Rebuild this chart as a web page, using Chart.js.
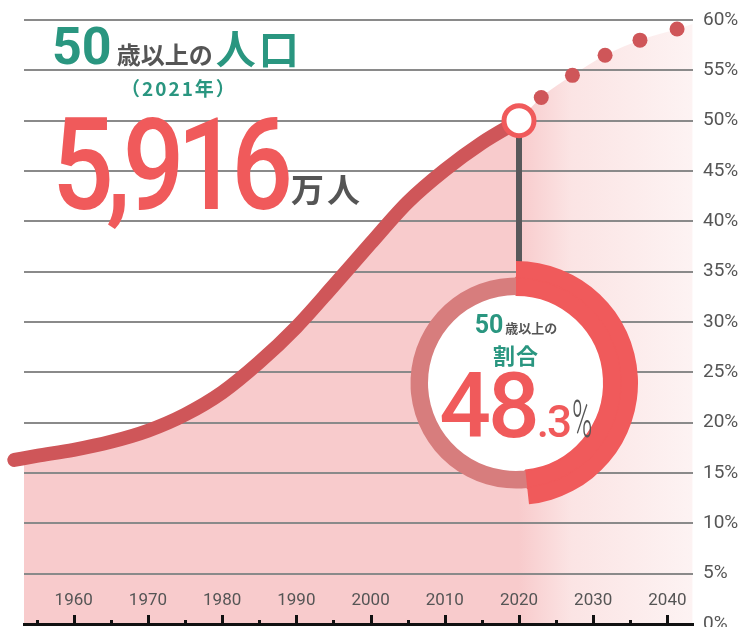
<!DOCTYPE html>
<html lang="ja">
<head>
<meta charset="utf-8">
<title>50歳以上の人口</title>
<script src="https://cdn.jsdelivr.net/npm/chart.js@4.4.1/dist/chart.umd.min.js"></script>
<style>
    body { margin: 0; background: #fff; }
    #wrap { position: relative; width: 740px; height: 627px; overflow: hidden; background: #fff;
            font-family: "Noto Sans CJK JP", sans-serif; }
    #mainChart { position: absolute; left: 0; top: 0; }
    #donutHole { position: absolute; left: 427px; top: 294px; width: 178px; height: 178px;
                 border-radius: 50%; background: #fff; }
    #donutChart { position: absolute; left: 394px; top: 261px; }
    .row { position: absolute; display: flex; align-items: baseline; white-space: nowrap; line-height: 1; }
    .center { justify-content: center; width: 400px; }
    .num { font-family: Roboto, sans-serif; }
    .teal { color: #2a9680; }
    .red { color: #f05a5b; }
    .grey { color: #555; }
    .b { font-weight: 700; }
</style>
</head>
<body>
<div id="wrap">
    <canvas id="mainChart" width="740" height="627"></canvas>

    <!-- headline -->
    <div class="row" style="left:52px; top:21px;">
        <span class="num b teal" style="font-size:52px;">50</span>
        <span class="b grey" style="font-size:24px; margin-left:5px;">歳以上の</span>
        <span class="b teal" style="font-size:40px; margin-left:3px; letter-spacing:3px;">人口</span>
    </div>
    <div class="row b teal" style="left:121px; top:78px; font-size:19px; letter-spacing:2px;">（2021年）</div>
    <div class="row" style="left:52px; top:101px;">
        <span class="num red" style="font-size:128px; font-weight:500; display:inline-block; transform:scaleX(0.85); transform-origin:left; letter-spacing:-9px;">5,916</span>
    </div>
    <div class="row b grey" style="left:291px; top:172px; font-size:33px; letter-spacing:3px;">万人</div>

    <!-- donut -->
    <div id="donutHole"></div>
    <canvas id="donutChart" width="244" height="244"></canvas>
    <div class="row center" style="left:316px; top:312px;">
        <span class="num b teal" style="font-size:25px;">50</span>
        <span class="b grey" style="font-size:13px; margin-left:2px;">歳以上の</span>
    </div>
    <div class="row center b teal" style="left:316px; top:343px; font-size:22px; letter-spacing:1px;">割合</div>
    <div class="row center" style="left:316px; top:361px;">
        <span class="num red" style="font-size:91px; font-weight:500; letter-spacing:-3px;">48</span>
        <span class="num red" style="font-size:44px; font-weight:500; letter-spacing:-2px;">.3</span>
        <span class="num grey" style="font-size:51px; font-weight:300; display:inline-block; transform:scaleX(0.54); transform-origin:left; margin-right:-17px; margin-left:2px;">%</span>
    </div>
</div>

<script>
// ===========================
// Data
// ===========================

// share of population aged 50+ (%), actual
const years = [1952, 1955, 1960, 1965, 1970, 1975, 1980, 1985, 1990, 1995, 2000, 2005, 2010, 2015, 2020];
const sharePct = [16.3, 16.7, 17.3, 18.1, 19.2, 20.8, 23.0, 26.0, 29.5, 33.6, 37.8, 41.9, 45.1, 47.8, 50.0];

// projection (dotted part)
const projYears = [2020, 2023, 2027.2, 2031.6, 2036.3, 2041.3, 2043.4];
const projPct = [50.0, 52.3, 54.5, 56.5, 58.0, 59.1, 59.6];

// highlighted point
const markYear = 2020;
const markPct = 50.0;

// axes
const decadeTicks = [1960, 1970, 1980, 1990, 2000, 2010, 2020, 2030, 2040];
const xMin = 1953.3;
const xMax = 2043.446;
const yMax = 60;

// donut: 50+ share in 2021
const donutLabels = ['50歳以上', '50歳未満'];
const donutShare = [48.3, 51.7];

// ===========================
// Plugins
// ===========================

const dropLine = {
    id: 'dropLine',
    beforeDatasetsDraw(chart) {
        const { ctx, scales } = chart;
        const x = Math.round(scales.x.getPixelForValue(markYear));
        const y = scales.y.getPixelForValue(markPct);
        ctx.save();
        ctx.fillStyle = '#58585a';
        ctx.fillRect(x - 3, y, 6, 275 - y);
        ctx.restore();
    }
};

// tick marks point up from the axis and labels sit just above them
const xAxisInside = {
    id: 'xAxisInside',
    afterDraw(chart) {
        const { ctx, scales, chartArea } = chart;
        const xs = scales.x;
        ctx.save();
        ctx.strokeStyle = '#111';
        ctx.lineWidth = 3;
        for (let yr = decadeTicks[0] - 5; yr <= decadeTicks[decadeTicks.length - 1]; yr += 5) {
            const x = Math.round(xs.getPixelForValue(yr)) + 0.5;
            const len = yr % 10 === 0 ? 9 : 4;
            ctx.beginPath();
            ctx.moveTo(x, chartArea.bottom);
            ctx.lineTo(x, chartArea.bottom - len);
            ctx.stroke();
        }
        ctx.fillStyle = '#555';
        ctx.font = '17px Roboto';
        ctx.textAlign = 'center';
        ctx.textBaseline = 'middle';
        decadeTicks.forEach((yr) => {
            ctx.fillText(String(yr), xs.getPixelForValue(yr), chartArea.bottom - 23);
        });
        ctx.restore();
    }
};

// ===========================
// Main chart
// ===========================

function projFill(context) {
    const chart = context.chart;
    const { chartArea, scales } = chart;
    if (!chartArea) return '#fbe4e4';
    const x0 = scales.x.getPixelForValue(projYears[0]);
    const g = chart.ctx.createLinearGradient(x0, 0, chartArea.right, 0);
    g.addColorStop(0, '#f8cbcc');
    g.addColorStop(0.3, '#fbe4e4');
    g.addColorStop(1, '#fdf3f3');
    return g;
}

new Chart(document.getElementById('mainChart'), {
    type: 'line',
    data: {
        datasets: [
            {
                data: [{ x: markYear, y: markPct }],
                order: 0,
                showLine: false,
                pointRadius: 15,
                pointBorderWidth: 5,
                pointBackgroundColor: '#ffffff',
                pointBorderColor: '#f05a5b',
                clip: false
            },
            {
                data: years.map((x, i) => ({ x, y: sharePct[i] })),
                order: 1,
                borderColor: '#cf5659',
                borderWidth: 14,
                borderCapStyle: 'round',
                borderJoinStyle: 'round',
                cubicInterpolationMode: 'monotone',
                backgroundColor: '#f8cbcc',
                fill: 'origin',
                pointRadius: 0,
                clip: false
            },
            {
                data: projYears.map((x, i) => ({ x, y: projPct[i] })),
                order: 2,
                borderWidth: 0,
                borderColor: 'rgba(0,0,0,0)',
                cubicInterpolationMode: 'monotone',
                backgroundColor: projFill,
                fill: 'origin',
                pointRadius: (c) => (c.dataIndex === 0 || c.dataIndex === projYears.length - 1) ? 0 : 7.5,
                pointBorderWidth: 0,
                pointBackgroundColor: '#cf5659',
                clip: false
            }
        ]
    },
    options: {
        responsive: false,
        animation: false,
        events: [],
        layout: { autoPadding: false, padding: { left: 24, top: 20, right: 0, bottom: 0 } },
        plugins: {
            legend: { display: false },
            tooltip: { enabled: false },
            filler: { drawTime: 'beforeDraw' }
        },
        scales: {
            x: {
                type: 'linear',
                min: xMin,
                max: xMax,
                position: 'bottom',
                grid: { display: false, drawTicks: false },
                border: { display: true, color: '#111', width: 3 },
                ticks: { display: false },
                afterFit: (axis) => { axis.height = 3; axis.paddingLeft = 0; axis.paddingRight = 0; }
            },
            y: {
                position: 'right',
                min: 0,
                max: yMax,
                grid: { color: '#8a8a8a', lineWidth: 2, drawTicks: false },
                border: { display: false },
                ticks: {
                    stepSize: 5,
                    padding: 10,
                    color: '#555',
                    font: { family: 'Roboto', size: 19 },
                    callback: (v) => v + '%'
                },
                afterFit: (axis) => { axis.width = 47; axis.paddingTop = 0; axis.paddingBottom = 0; }
            }
        }
    },
    plugins: [dropLine, xAxisInside]
});

// ===========================
// Donut
// ===========================

new Chart(document.getElementById('donutChart'), {
    type: 'doughnut',
    data: {
        labels: donutLabels,
        datasets: [
            { data: donutShare, weight: 16, backgroundColor: ['#f05a5b', 'rgba(0,0,0,0)'], borderWidth: 0 },
            {
                data: donutShare,
                weight: 17,
                backgroundColor: ['#f05a5b', '#d77d7d'],
                borderColor: ['#f05a5b', 'rgba(0,0,0,0)'],
                borderWidth: [2, 0]
            }
        ]
    },
    options: {
        responsive: false,
        animation: false,
        events: [],
        cutout: 88,
        hoverBorderWidth: 0,
        hoverOffset: 0,
        layout: { autoPadding: false, padding: 0 },
        plugins: { legend: { display: false }, tooltip: { enabled: false } }
    }
});
</script>
</body>
</html>
